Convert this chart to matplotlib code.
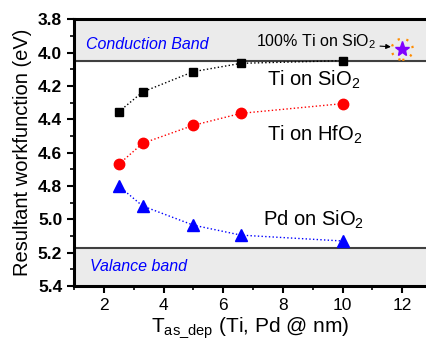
import matplotlib

matplotlib.use("Agg")
import matplotlib.pyplot as plt
from matplotlib.ticker import MultipleLocator

plt.rcParams["font.family"] = ["Liberation Sans", "DejaVu Sans"]
plt.rcParams["mathtext.fontset"] = "custom"
plt.rcParams["mathtext.rm"] = "Liberation Sans"

# thickness values (nm)
thickness = [2.5, 3.3, 5.0, 6.6, 10.0]
ti_sio2 = [4.355, 4.236, 4.114, 4.064, 4.048]
ti_hfo2 = [4.67, 4.544, 4.436, 4.364, 4.306]
pd_sio2 = [4.80, 4.92, 5.035, 5.095, 5.13]

pure_ti_x = [12.0]
pure_ti_y = [3.98]

conduction_edge = 4.05
valence_edge = 5.17
y_top, y_bottom = 3.8, 5.4

fig = plt.figure(figsize=(4.27, 3.43), dpi=100)
ax = fig.add_axes([0.1733, 0.1662, 0.8267, 0.7775])

ax.set_xlim(1, 12.83)
ax.set_ylim(y_bottom, y_top)

# band regions
ax.axhspan(y_top, conduction_edge, color="#ebebeb", zorder=0)
ax.axhspan(valence_edge, y_bottom, color="#ebebeb", zorder=0)
ax.axhline(conduction_edge, color="#404040", lw=1.5, zorder=1)
ax.axhline(valence_edge, color="#404040", lw=1.5, zorder=1)

ax.plot(thickness, ti_sio2, ls=":", color="black", lw=1, marker="s", ms=6, zorder=3)
ax.plot(thickness, ti_hfo2, ls=":", color="red", lw=1, marker="o", ms=7.5, zorder=3)
ax.plot(thickness, pd_sio2, ls=":", color="blue", lw=1, marker="^", ms=8.5, zorder=3)

ax.scatter(pure_ti_x, pure_ti_y, s=230, facecolors="none", edgecolors="#ff8c00",
           linestyles=(0, (1, 3)), linewidths=1.6, zorder=3)
ax.plot(pure_ti_x, pure_ti_y, ls="none", marker="*", ms=11, color="#8000ff", zorder=4)

ax.text(1.4, 3.954, "Conduction Band", color="blue", style="italic", fontsize=11.5,
        va="center", ha="left")
ax.text(1.54, 5.284, "Valance band", color="blue", style="italic", fontsize=11.5,
        va="center", ha="left")
ax.annotate("100% Ti on SiO$_2$", xy=(11.62, 3.965), xytext=(7.1, 3.936),
            fontsize=11.5, va="center", ha="left",
            arrowprops=dict(arrowstyle="-|>", color="black", lw=0.8, mutation_scale=7,
                            shrinkA=1, shrinkB=0))
ax.text(7.47, 4.163, "Ti on SiO$_2$", fontsize=14.5, va="center", ha="left")
ax.text(7.47, 4.494, "Ti on HfO$_2$", fontsize=14.5, va="center", ha="left")
ax.text(7.33, 5.004, "Pd on SiO$_2$", fontsize=14.5, va="center", ha="left")

ax.xaxis.set_major_locator(MultipleLocator(2))
ax.xaxis.set_minor_locator(MultipleLocator(1))
ax.yaxis.set_major_locator(MultipleLocator(0.2))
ax.yaxis.set_minor_locator(MultipleLocator(0.1))
ax.set_xticks([2, 4, 6, 8, 10, 12])
ax.yaxis.set_major_formatter(plt.FormatStrFormatter("%.1f"))

ax.tick_params(axis="both", which="major", direction="out", length=5, width=1.5,
               labelsize=12.5)
ax.tick_params(axis="both", which="minor", direction="out", length=3, width=1.2)
for label in ax.get_yticklabels():
    label.set_fontweight("bold")

for side in ("left", "bottom", "top"):
    ax.spines[side].set_linewidth(2.2)
ax.spines["right"].set_visible(False)

ax.set_ylabel("Resultant workfunction (eV)", fontsize=14.5, labelpad=4)
ax.set_xlabel(r"T$_\mathregular{as\_dep}$ (Ti, Pd @ nm)", fontsize=15, labelpad=2)

fig.savefig("out.png", dpi=100)
